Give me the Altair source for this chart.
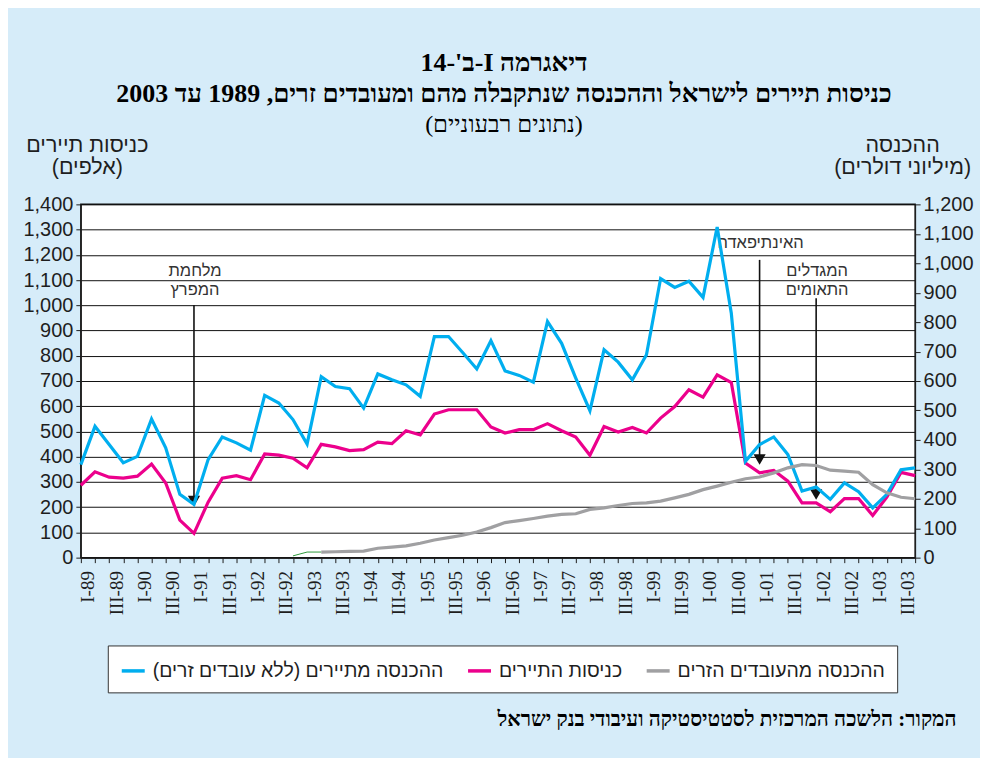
import altair as alt
import pandas as pd

RLE, PDF = "\u202B", "\u202C"


def rtl(s):
    return RLE + s + PDF


years = ["89", "90", "91", "92", "93", "94", "95", "96", "97", "98", "99", "00", "01", "02", "03"]
quarter_names = ["I", "II", "III", "IV"]
quarters = [f"{q}-{y}" for y in years for q in quarter_names]

# income from tourists (excluding foreign workers), $ millions - right axis
income_tourists = [
    316, 446, 384, 322, 344, 471, 373, 215, 181, 333, 410, 390, 365, 551, 525, 469, 386, 615, 581, 574,
    508, 624, 604, 587, 548, 751, 751, 697, 641, 737, 634, 619, 596, 802, 728, 610, 499, 706, 664, 604,
    689, 948, 918, 939, 884, 1123, 830, 327, 384, 410, 350, 226, 240, 198, 254, 224, 169, 215, 299, 305,
]
# tourist entries, thousands - left axis
tourist_entries = [
    287, 340, 319, 315, 323, 371, 296, 149, 96, 220, 315, 325, 309, 411, 406, 394, 356, 449, 439, 424,
    428, 458, 452, 503, 486, 569, 586, 586, 586, 518, 494, 507, 507, 531, 503, 478, 406, 520, 498, 516,
    494, 553, 599, 665, 636, 724, 694, 375, 336, 346, 303, 217, 217, 182, 234, 234, 167, 240, 338, 325,
]
# income from foreign workers, $ millions - right axis
income_workers = [None] * 17 + [
    19, 20, 21,
    22, 32, 36, 40, 49, 60, 68, 76, 87, 102, 119, 126, 133, 141, 147, 149, 164, 169, 177, 184,
    186, 192, 203, 215, 231, 243, 256, 268, 274, 288, 305, 316, 313, 297, 294, 290, 248, 220, 205, 200,
]
green_q = ["IV-92", "I-93", "II-93"]
green_v = [6, 19, 19]

lab_cyan = rtl("ההכנסה מתיירים (ללא עובדים זרים)")
lab_mag = rtl("כניסות התיירים")
lab_gray = rtl("ההכנסה מהעובדים הזרים")
series_labels = [lab_cyan, lab_mag, lab_gray]
series_colors = ["#00AEEF", "#EC008C", "#A0A0A2"]

ann_q = ["I-91", "I-01", "I-02"]
ann_top = [1001, 1180, 1028]
ann_head = [224, 389, 250]
ann_label = ["מלחמת\nהמפרץ", "האינתיפאדה", "המגדלים\nהתאומים"]
ann_label_y = [1166, 1279, 1166]

source_text = rtl("המקור: הלשכה המרכזית לסטטיסטיקה ועיבודי בנק ישראל")

SANS = "Liberation Sans, Arial, DejaVu Sans"
HEB = "Liberation Sans, Arial, DejaVu Sans"
SERIF = "Liberation Serif, Times New Roman, DejaVu Serif"
INK = "#1e1e1e"

x_axis = alt.Axis(
    labelAngle=-90,
    labelExpr="(indexof(datum.label,'II-')==0 || indexof(datum.label,'IV-')==0) ? '' : datum.label",
    labelFont=SERIF, labelFontSize=19, labelColor=INK, labelPadding=8, labelOverlap=False,
    labelOffset=7,
    tickSize=5, tickColor=INK, domainColor=INK, grid=False,
    title=source_text, titleFont=SERIF, titleFontSize=21, titleFontWeight="bold", titleColor="#000",
    titleAnchor="end", titleAlign="right", titleX=877, titleY=162, titleBaseline="middle",
)
left_axis = alt.Axis(
    orient="left", values=list(range(0, 1401, 100)), format=",.0f",
    labelFont=SANS, labelFontSize=20, labelColor=INK, labelPadding=3,
    tickSize=5, tickColor=INK, domainColor=INK,
    grid=True, gridColor="#111", gridWidth=1, gridOpacity=1,
    title=[rtl("כניסות תיירים"), rtl("(אלפים)")], titleAngle=0, titleX=6, titleY=-70,
    titleAlign="center", titleBaseline="top", titleFont=HEB, titleFontSize=21.5,
    titleFontWeight="normal", titleLineHeight=22, titleColor=INK,
)
right_axis = alt.Axis(
    orient="right", values=list(range(0, 1201, 100)), format=",.0f",
    labelFont=SANS, labelFontSize=20, labelColor=INK, labelPadding=3,
    tickSize=5, tickColor=INK, domainColor=INK, grid=False,
    title=[rtl("ההכנסה"), rtl("(מיליוני דולרים)")], titleAngle=0, titleX=-13, titleY=-70,
    titleAlign="center", titleBaseline="top", titleFont=HEB, titleFontSize=21.5,
    titleFontWeight="normal", titleLineHeight=22, titleColor=INK,
)


def xenc(field):
    return alt.X(f"{field}:O", sort=None,
                 scale=alt.Scale(domain=quarters, type="point", padding=0), axis=x_axis)


def yleft(field):
    return alt.Y(f"{field}:Q", scale=alt.Scale(domain=[0, 1400], nice=False, zero=True), axis=left_axis)


def yright(field):
    return alt.Y(f"{field}:Q", scale=alt.Scale(domain=[0, 1200], nice=False, zero=True), axis=right_axis)


legend = alt.Legend(
    title=None, orient="none", legendX=27, legendY=442, direction="horizontal",
    fillColor="white", strokeColor="#333", padding=12,
    labelFont=HEB, labelFontSize=19.5, labelColor=INK, labelLimit=500,
    symbolType="stroke", symbolSize=530, symbolStrokeWidth=3.5,
    labelOffset=6, columnPadding=16,
)
color_scale = alt.Scale(domain=series_labels, range=series_colors)

df_left = pd.DataFrame({"q": quarters, "value": tourist_entries, "series": lab_mag})
rows = []
for q, v in zip(quarters, income_tourists):
    rows.append({"q": q, "value": v, "series": lab_cyan})
for q, v in zip(quarters, income_workers):
    if v is not None:
        rows.append({"q": q, "value": v, "series": lab_gray})
df_right = pd.DataFrame(rows)
df_green = pd.DataFrame({"q": green_q, "value": green_v})
df_ann = pd.DataFrame({"q": ann_q, "top": ann_top, "head": ann_head,
                       "label": ann_label, "ly": ann_label_y})

mag_line = alt.Chart(df_left).mark_line(strokeWidth=3.2).encode(
    x=xenc("q"), y=yleft("value"),
    color=alt.Color("series:N", scale=color_scale, legend=legend),
)
rules = alt.Chart(df_ann).mark_rule(color="#111", strokeWidth=1.6).encode(
    x=xenc("q"), y=yleft("top"), y2="head"
)
heads = alt.Chart(df_ann).mark_point(shape="triangle-down", filled=True, size=150,
                                     color="#111", opacity=1).encode(x=xenc("q"), y=yleft("head"))
texts = alt.Chart(df_ann).mark_text(font=HEB, fontSize=16.5, lineBreak="\n", baseline="top",
                                    align="center", color="#333", lineHeight=19, dx=1).encode(
    x=xenc("q"), y=yleft("ly"), text="label:N"
)
left = alt.layer(mag_line, rules, heads, texts)

green_line = alt.Chart(df_green).mark_line(strokeWidth=1, color="#2f9a3c").encode(
    x=xenc("q"), y=yright("value")
)
right_lines = alt.Chart(df_right).mark_line(strokeWidth=3.2).encode(
    x=xenc("q"), y=yright("value"),
    color=alt.Color("series:N", scale=color_scale, legend=legend),
    detail="series:N",
)
right = alt.layer(green_line, right_lines)

chart = alt.layer(left, right).resolve_scale(y="independent").properties(
    width=836, height=354,
    autosize=alt.AutoSizeParams(type="none"),
    padding={"left": 73, "top": 196, "right": 65, "bottom": 200},
    background="#D6ECF9",
    title=alt.TitleParams(
        text=[rtl("דיאגרמה I-ב'-14"), rtl("כניסות תיירים לישראל וההכנסה שנתקבלה מהם ומעובדים זרים, 1989 עד 2003")],
        subtitle=rtl("(נתונים רבעוניים)"),
        font=SERIF, fontSize=26, fontWeight="bold", lineHeight=31, color="#000",
        subtitleFont=SERIF, subtitleFontSize=24, subtitleFontWeight="normal", subtitleColor="#000",
        subtitlePadding=6, anchor="middle", offset=-2, dx=6,
    ),
).configure_view(fill="white", stroke="#111", strokeWidth=1.5)

chart.save("out.html", embed_options={"renderer": "svg", "actions": False})
